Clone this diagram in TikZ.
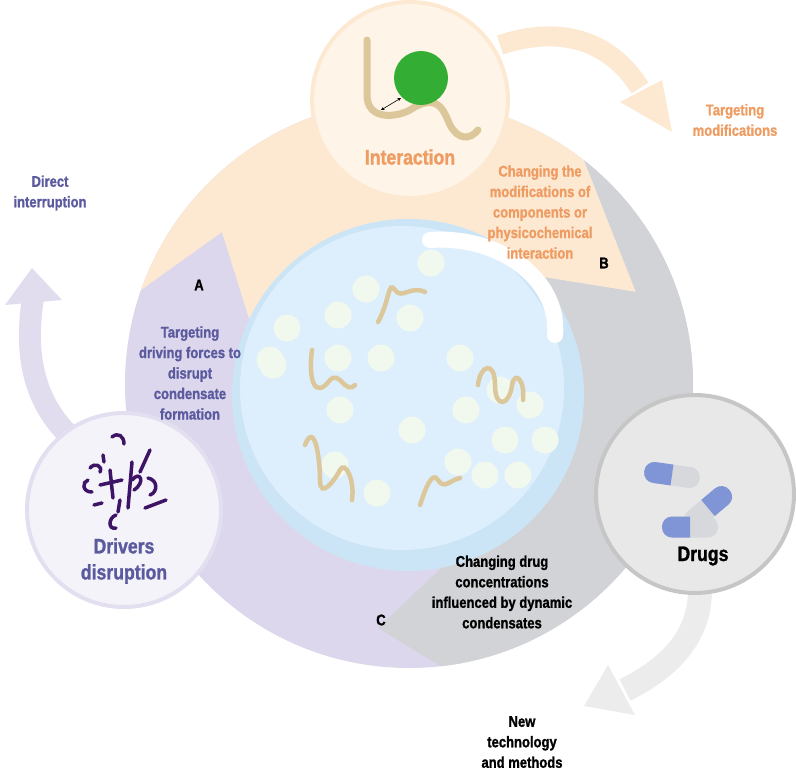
\documentclass[tikz,border=0pt]{standalone}
\usepackage{fontspec}
\setmainfont{Liberation Sans}
\newfontfamily\lblfont{LiberationSans-Bold}[Extension=.ttf,FakeStretch=0.84,FakeBold=1.2]
\begin{document}
\begin{tikzpicture}[x=1pt,y=-1pt,
  lbl/.style={font=\lblfont\fontsize{15.5}{20.5}\selectfont,align=center,inner sep=0},
  big/.style={font=\lblfont\fontsize{21}{26}\selectfont,align=center,inner sep=0},
  squig/.style={draw=squigc,line width=4.5pt,line cap=round},
  purp/.style={draw=purpc,line width=3.5pt,line cap=round},
  capb/.style={fill=capblue},
  capg/.style={fill=capgray}]
\definecolor{lav}{HTML}{DCD7EC}
\definecolor{peach}{HTML}{FDE9D2}
\definecolor{grayc}{HTML}{D1D3D6}
\definecolor{blueo}{HTML}{CBE5F6}
\definecolor{bluei}{HTML}{DDEFFC}
\definecolor{dotc}{HTML}{F1F9EF}
\definecolor{squigc}{HTML}{DCC79A}
\definecolor{purpc}{HTML}{3D1466}
\definecolor{orangec}{HTML}{EE9C62}
\definecolor{lavtxt}{HTML}{5B5A9F}
\definecolor{capblue}{HTML}{7F95D6}
\definecolor{capgray}{HTML}{D6D8DC}
\useasboundingbox (0,0) rectangle (796,777);
% arrows
\fill[lav!85] (5,305) -- (62,300) -- (32,268) -- cycle;
\draw[lav!85,line width=22pt] (80,445) .. controls (30,405) and (25,350) .. (33,298);
\draw[peach,line width=20pt] (500,45) .. controls (560,25) and (610,40) .. (640,88);
\fill[peach] (620,102) -- (662,80) -- (672,132) -- cycle;
\draw[gray!15,line width=24pt] (700,590) .. controls (700,640) and (665,670) .. (625,690);
\fill[gray!15] (608,665) -- (635,715) -- (584,706) -- cycle;
% big circle and sectors
\fill[lav] (409,384) circle (284);
\begin{scope}
\clip (409,384) circle (284);
\fill[peach] (141,290) -- (222,232) -- (262,360) -- (530,275) -- (636,292) -- (584,160) -- (700,0) -- (100,0) -- (60,290) -- cycle;
\fill[grayc] (584,160) -- (636,292) -- (530,275) -- (420,400) -- (455,555) -- (378,628) -- (480,690) -- (800,690) -- (800,100) -- cycle;
\end{scope}
% condensate
\fill[blueo] (408,395) circle (176);
\fill[bluei] (402,388) circle (162);
\draw[white,line width=16pt,line cap=round] (430,240) .. controls (500,235) and (560,280) .. (555,335);
\foreach \p in {(287,328),(338,315),(366,289),(431,263),(410,318),(338,358),(381,358),(460,358),(270,360),(340,410),(412,430),(466,410),(500,390),(530,405),(545,440),(505,440),(518,475),(458,462),(335,465),(377,493),(485,475),(273,365)}
  \fill[dotc] \p circle (13.5);
\draw[squig] (378,322) .. controls (390,300) and (388,280) .. (395,290) .. controls (402,300) and (410,285) .. (425,292);
\draw[squig] (312,350) .. controls (308,380) and (315,400) .. (330,380) .. controls (340,370) and (345,395) .. (355,385);
\draw[squig] (478,385) .. controls (480,365) and (495,360) .. (495,385) .. controls (495,410) and (510,405) .. (512,385) .. controls (515,370) and (525,380) .. (523,400);
\draw[squig] (305,445) .. controls (315,420) and (320,460) .. (320,480) .. controls (320,500) and (335,480) .. (340,470) .. controls (345,460) and (355,480) .. (352,500);
\draw[squig] (420,505) .. controls (425,490) and (432,470) .. (438,480) .. controls (444,490) and (450,480) .. (460,478);
% interaction circle
\node[circle,minimum size=196pt,fill=peach!50,draw=peach,line width=4pt] (inter) at (410,100) {};
\draw[squigc,line width=7pt,line cap=round] (367,40) -- (367,95) .. controls (367,120) and (395,118) .. (410,110) .. controls (440,90) and (445,115) .. (450,125) .. controls (458,140) and (470,140) .. (478,130);
\fill[green!60!black!80] (421,78) circle (27);
\draw[<->,>=stealth,line width=0.6pt] (381,110) -- (401,98);
\node[big,text=orangec] (ilbl) at (410,157) {Interaction};
% drivers circle
\node[circle,minimum size=194pt,fill=lav!30,draw=lav!80,line width=4pt] (driv) at (124,510) {};
\draw[purp] (112,437) .. controls (118,432) and (124,436) .. (124,444);
\draw[purp] (150,450) -- (140,472);
\draw[purp] (103,455) -- (104,462);
\draw[purp] (90,468) .. controls (95,462) and (103,466) .. (100,472);
\draw[purp] (88,480) .. controls (82,482) and (82,492) .. (92,492);
\draw[purp] (110,470) -- (113,498);
\draw[purp] (100,485) -- (122,480);
\draw[purp] (132,462) -- (128,508);
\draw[purp] (132,480) .. controls (140,470) and (146,482) .. (134,490);
\draw[purp] (148,478) .. controls (158,480) and (158,492) .. (150,495);
\draw[purp] (94,505) -- (102,503);
\draw[purp] (120,500) -- (118,512);
\draw[purp] (145,508) -- (166,500);
\draw[purp] (116,515) .. controls (108,518) and (108,530) .. (116,528);
\node[big,text=lavtxt] (dlbl) at (124,561) {Drivers\\disruption};
% drugs circle
\node[circle,minimum size=198pt,fill=gray!18,draw=gray!45,line width=4pt] (drug) at (695,494) {};
\begin{scope}[shift={(672,475)},rotate=-8]
\fill[capg,rounded corners=10pt] (-28,-10.5) rectangle (28,10.5);
\begin{scope}\clip (-30,-12) rectangle (0,12);
\fill[capb,rounded corners=10pt] (-28,-10.5) rectangle (28,10.5);\end{scope}
\end{scope}
\begin{scope}[shift={(708,508)},rotate=40]
\fill[capg,rounded corners=10pt] (-28,-10.5) rectangle (28,10.5);
\begin{scope}\clip (0,-12) rectangle (30,12);
\fill[capb,rounded corners=10pt] (-28,-10.5) rectangle (28,10.5);\end{scope}
\end{scope}
\begin{scope}[shift={(690,527)}]
\fill[capg,rounded corners=10pt] (-28,-10.5) rectangle (28,10.5);
\begin{scope}\clip (-30,-12) rectangle (0,12);
\fill[capb,rounded corners=10pt] (-28,-10.5) rectangle (28,10.5);\end{scope}
\end{scope}
\node[big] (dglbl) at (703,556) {Drugs};
% labels
\node[lbl,text=orangec] (tm) at (735,120) {Targeting\\modifications};
\node[lbl,text=lavtxt] (di) at (50,193) {Direct\\interruption};
\node[lbl,text=lavtxt] (tf) at (190,373) {Targeting\\driving forces to\\disrupt\\condensate\\formation};
\node[lbl,text=orangec] (cm) at (540,212) {Changing the\\modifications of\\components or\\physicochemical\\interaction};
\node[lbl] (B) at (604,263) {B};
\node[lbl] (A) at (199,285) {A};
\node[lbl] (C) at (381,620) {C};
\node[lbl] (cd) at (502,592) {Changing drug\\concentrations\\influenced by dynamic\\condensates};
\node[lbl] (nt) at (522,742) {New\\technology\\and methods};
\end{tikzpicture}
\end{document}
